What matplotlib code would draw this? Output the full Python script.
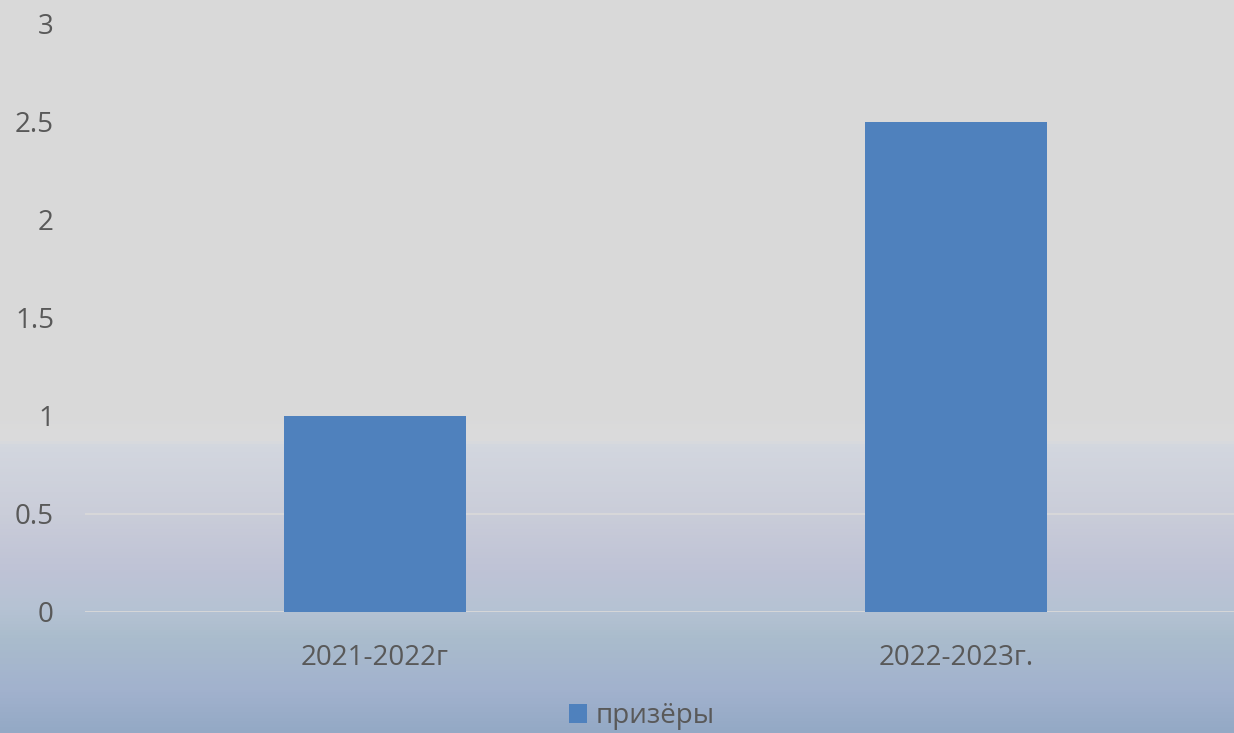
import numpy as np
import matplotlib.pyplot as plt
from matplotlib.colors import LinearSegmentedColormap
from matplotlib.patches import Patch

# =============================
# DATA
# =============================
categories = ["2021-2022г", "2022-2023г."]
values = [1, 2.5]
series_name = "призёры"
y_ticks = [0, 0.5, 1, 1.5, 2, 2.5, 3]
y_tick_labels = ["0", "0.5", "1", "1.5", "2", "2.5", "3"]

BAR_COLOR = "#4F81BD"
TEXT_COLOR = "#595959"
GRID_COLOR = "#D9D9D9"

plt.rcParams["font.family"] = ["Open Sans", "DejaVu Sans"]

W, H = 1234, 733
fig = plt.figure(figsize=(W / 100, H / 100), dpi=100)

# =============================
# BACKGROUND GRADIENT
# =============================
bg_ax = fig.add_axes([0, 0, 1, 1], zorder=-10)
stops = [
    (0.0, "#D9D9D9"),
    (410 / H, "#D9D9D9"),
    (440 / H, "#DBDBDC"),
    (446 / H, "#D3D7DF"),
    (515 / H, "#CACDD9"),
    (570 / H, "#BFC3D6"),
    (612 / H, "#B5C2D3"),
    (640 / H, "#AABCCC"),
    (690 / H, "#A2B2CE"),
    (1.0, "#94A9C5"),
]
cmap = LinearSegmentedColormap.from_list("bg", stops)
grad = np.linspace(0, 1, 733).reshape(-1, 1)
bg_ax.imshow(grad, aspect="auto", cmap=cmap, extent=[0, 1, 0, 1], origin="upper")
bg_ax.axis("off")

# =============================
# BAR CHART
# =============================
left = 84.5 / W
right = 1246.5 / W
bottom = 1 - 612 / H
top = 1 - 24 / H
ax = fig.add_axes([left, bottom, right - left, top - bottom])
ax.patch.set_alpha(0)

x = np.arange(len(categories))
ax.bar(x, values, width=0.314, color=BAR_COLOR, zorder=3)

ax.set_xlim(-0.5, len(categories) - 0.5)
ax.set_ylim(0, 3)
ax.set_yticks(y_ticks)
ax.set_yticklabels(y_tick_labels)
ax.set_xticks(x)
ax.set_xticklabels(categories)

ax.grid(axis="y", color=GRID_COLOR, linewidth=1.3, zorder=0)
ax.set_axisbelow(True)
for s in ax.spines.values():
    s.set_visible(False)

ax.tick_params(axis="y", length=0, pad=22, labelsize=20, labelcolor=TEXT_COLOR)
ax.tick_params(axis="x", length=0, pad=23, labelsize=20, labelcolor=TEXT_COLOR)

# =============================
# LEGEND
# =============================
handle = Patch(facecolor=BAR_COLOR, label=series_name)
fig.legend(
    handles=[handle],
    loc="center",
    bbox_to_anchor=(642 / W, 1 - 716 / H),
    frameon=False,
    fontsize=20,
    labelcolor=TEXT_COLOR,
    handlelength=0.65,
    handleheight=0.65,
    handletextpad=0.3,
)

plt.savefig("out.png", dpi=100)
